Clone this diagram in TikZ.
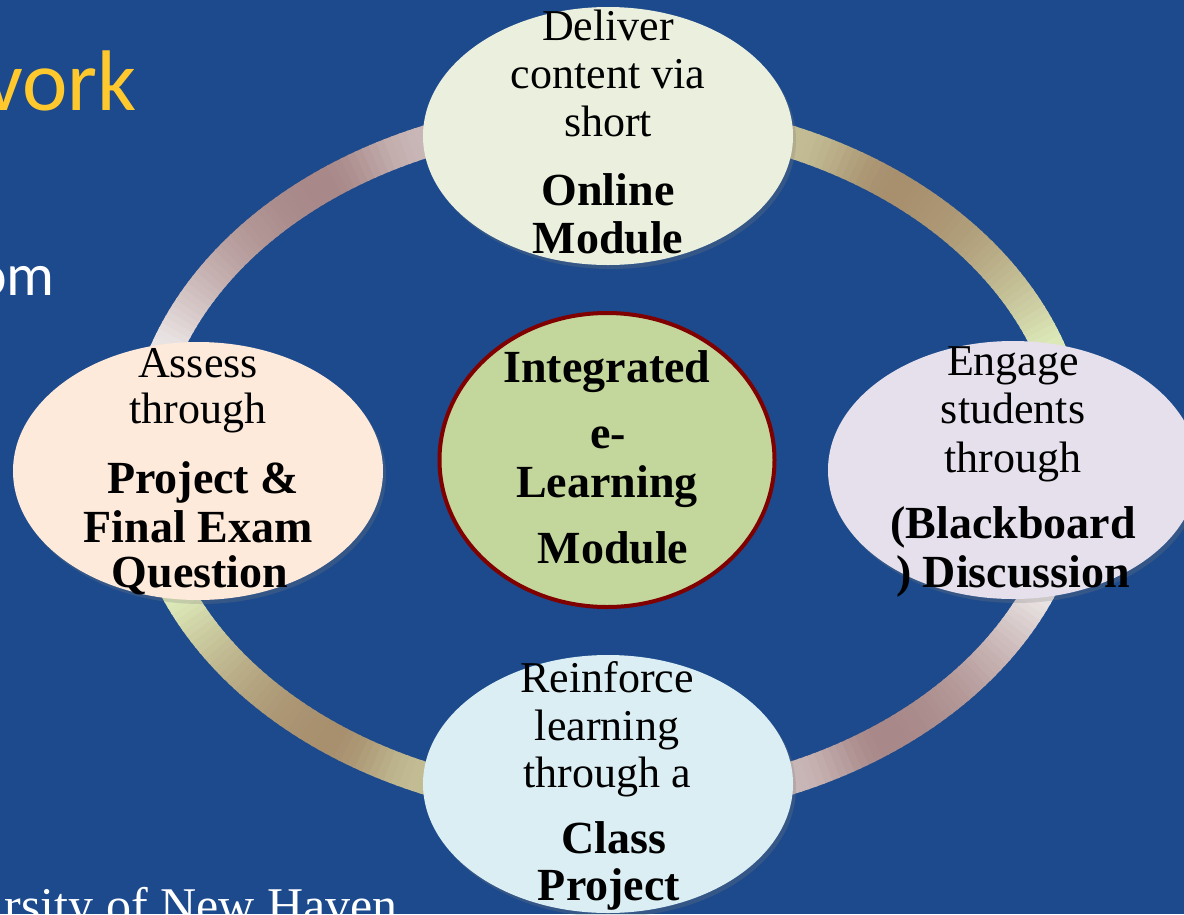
\documentclass[tikz,border=0pt]{standalone}
\usepackage{fontspec}
\setmainfont{Liberation Serif}
\newfontfamily\titlefont{Carlito}
\usetikzlibrary{shapes.geometric,shadows}

\definecolor{slidebg}{HTML}{1C4A8C}
\definecolor{titleyellow}{HTML}{FFC92E}
\definecolor{pinkend}{HTML}{EAE3E3}
\definecolor{pinkmid}{HTML}{A88888}
\definecolor{greenend}{HTML}{DCE8B8}
\definecolor{greenmid}{HTML}{A8906F}
\definecolor{topfill}{HTML}{EBF0DE}
\definecolor{leftfill}{HTML}{FDEADA}
\definecolor{rightfill}{HTML}{E5E0EC}
\definecolor{bottomfill}{HTML}{DAEEF3}
\definecolor{hubfill}{HTML}{C3D69B}
\definecolor{hubline}{HTML}{800000}

\begin{document}
\begin{tikzpicture}[x=1pt,y=-1pt,
  bubble/.style={ellipse, inner sep=0pt, minimum width=370pt, minimum height=258pt,
    drop shadow={shadow xshift=3pt, shadow yshift=-4pt, opacity=0.25}},
  plainline/.style={anchor=base, inner sep=0pt, font=\fontsize{44}{48}\selectfont},
  boldline/.style={anchor=base, inner sep=0pt, font=\fontsize{46}{48}\selectfont\bfseries},
  slidetext/.style={inner sep=0pt, text=white}]

% slide background
\useasboundingbox (0,0) rectangle (1184,914);
\fill[slidebg] (0,0) rectangle (1184,914);

% fragments of the slide text
\node[slidetext, anchor=base east, text=titleyellow,
  font=\titlefont\fontsize{86}{90}\selectfont] (title) at (137,110) {vork};
\node[slidetext, anchor=base east,
  font=\titlefont\fontsize{60}{66}\selectfont] (bullet) at (55,295) {om};
\node[slidetext, anchor=base east,
  font=\fontsize{50}{54}\selectfont] (footer) at (398,922) {rsity of New Haven};

% the cycle ring: four arcs, each shaded from light (side) to dark near the pole
\foreach \ta/\side/\pole/\c in {180/200/246.6/pink, 270/340.2/293.4/green,
                                0/23.3/66.6/pink, 90/156.1/113.4/green} {
  \foreach \i in {0,...,89} {
    \pgfmathsetmacro\a{\ta+\i}
    \pgfmathsetmacro\s{max(0,min(1,(\a+0.5-\side)/(\pole-\side)))}
    \pgfmathsetmacro\f{\s<0.7 ? 100*sin(90*\s/0.7) : 100*(0.75+0.25*cos(180*(\s-0.7)/0.3))}
    \colorlet{seg}{\c mid!\f!\c end}
    \draw[line width=32pt, seg]
      ({608+466*cos(\a)},{460+346*sin(\a)})
      arc[start angle=\a, end angle=\a+1.3, x radius=466, y radius=346];
  }
}

% outer bubbles
\node[bubble, fill=topfill]    (deliver)   at (608,136) {};
\node[bubble, fill=leftfill]   (assess)    at (198,471) {};
\node[bubble, fill=rightfill]  (engage)    at (1013,470) {};
\node[bubble, fill=bottomfill] (reinforce) at (608,784) {};

% central hub
\node[ellipse, inner sep=0pt, minimum width=335pt, minimum height=294pt,
  fill=hubfill, draw=hubline, line width=4pt] (hub) at (607,460) {};

% top bubble text
\node[plainline] (deliver-1) at (608,40)  {Deliver};
\node[plainline] (deliver-2) at (608,88)  {content via};
\node[plainline] (deliver-3) at (608,136) {short};
\node[boldline]  (deliver-4) at (608,205) {Online};
\node[boldline]  (deliver-5) at (608,253) {Module};

% left bubble text
\node[plainline] (assess-1) at (198,377) {Assess};
\node[plainline] (assess-2) at (198,423) {through};
\node[boldline]  (assess-3) at (203,493) {Project \&};
\node[boldline]  (assess-4) at (198,542) {Final Exam};
\node[boldline]  (assess-5) at (200,587) {Question};

% right bubble text
\node[plainline] (engage-1) at (1013,375) {Engage};
\node[plainline] (engage-2) at (1013,423) {students};
\node[plainline] (engage-3) at (1013,472) {through};
\node[boldline]  (engage-4) at (1013,538) {(Blackboard};
\node[boldline]  (engage-5) at (1013,587) {) Discussion};

% bottom bubble text
\node[plainline] (reinforce-1) at (607,692) {Reinforce};
\node[plainline] (reinforce-2) at (607,740) {learning};
\node[plainline] (reinforce-3) at (607,787) {through a};
\node[boldline]  (reinforce-4) at (614,853) {Class};
\node[boldline]  (reinforce-5) at (609,900) {Project};

% hub text
\node[boldline] (hub-1) at (607,382) {Integrated};
\node[boldline] (hub-2) at (608,448) {e-};
\node[boldline] (hub-3) at (607,497) {Learning};
\node[boldline] (hub-4) at (613,563) {Module};

\end{tikzpicture}
\end{document}
